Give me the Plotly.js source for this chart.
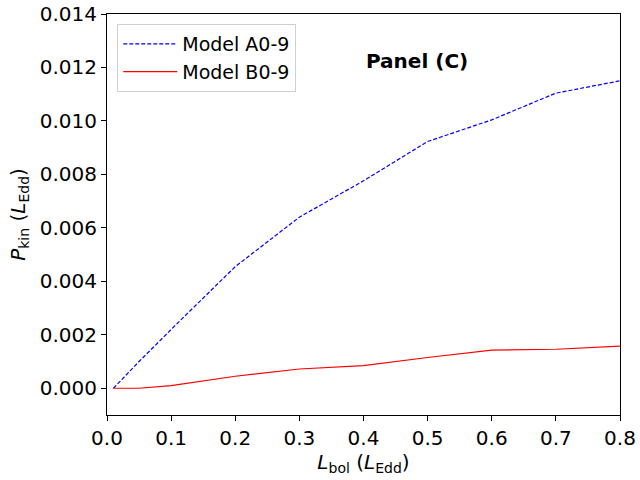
<!DOCTYPE html>
<html>
<head>
<meta charset="utf-8">
<script src="https://cdn.plot.ly/plotly-3.0.1.min.js"></script>
<style>
  html, body { margin: 0; padding: 0; background: #fff; }
  #chart { width: 640px; height: 480px; }
</style>
</head>
<body>
<div id="chart"></div>
<script>
'use strict';

/* ---------- data ---------- */
var lbol   = [0.01, 0.05, 0.1, 0.2, 0.3, 0.4, 0.5, 0.6, 0.7, 0.8];
var modelA = [0.0, 0.00100, 0.00220, 0.00455, 0.00640, 0.00776, 0.00923, 0.01004, 0.01104, 0.01150];
var modelB = [0.0, 0.0, 0.00010, 0.00045, 0.00072, 0.00085, 0.00115, 0.00143, 0.00146, 0.00158];
var xTicks = [0, 0.1, 0.2, 0.3, 0.4, 0.5, 0.6, 0.7, 0.8];
var yTicks = [0, 0.002, 0.004, 0.006, 0.008, 0.010, 0.012, 0.014];

var FONT = 'DejaVu Sans, sans-serif';

var axisCommon = {
  showline: true, mirror: true, linecolor: '#000', linewidth: 1,
  ticks: 'outside', ticklen: 5, tickwidth: 1, tickcolor: '#000',
  showgrid: false, zeroline: false,
  tickfont: { family: FONT, size: 20, color: '#000' }
};

Plotly.newPlot('chart', [
  { x: lbol, y: modelA, name: 'Model A0-9', legendgroup: 'a',
    type: 'scatter', mode: 'lines',
    line: { color: '#0000ff', width: 1.2, dash: '4px,2px' } },
  { x: lbol, y: modelB, name: 'Model B0-9', legendgroup: 'b',
    type: 'scatter', mode: 'lines',
    line: { color: '#ff0000', width: 1.2 } }
], {
  width: 640, height: 480,
  font: { family: FONT, color: '#000' },
  paper_bgcolor: '#fff', plot_bgcolor: '#fff',
  margin: { t: 14, r: 20, b: 65, l: 107 },
  xaxis: Object.assign({}, axisCommon, {
    range: [0, 0.8], tickvals: xTicks, tickformat: '.1f',
    title: { text: '<i>L</i><sub>bol</sub> (<i>L</i><sub>Edd</sub>)',
             font: { family: FONT, size: 20 }, standoff: 2 }
  }),
  yaxis: Object.assign({}, axisCommon, {
    range: [-0.001, 0.014], tickvals: yTicks, tickformat: '.3f',
    title: { text: '<i>P</i><sub>kin</sub> (<i>L</i><sub>Edd</sub>)',
             font: { family: FONT, size: 20 }, standoff: 8 }
  }),
  showlegend: true,
  legend: {
    x: 0.02, y: 0.975, xanchor: 'left', yanchor: 'top',
    bgcolor: '#fff', bordercolor: '#d0d0d0', borderwidth: 1,
    font: { family: FONT, size: 19, color: '#000' },
    tracegroupgap: 0, itemwidth: 54
  },
  annotations: [{
    x: 0.4, y: 0.01224, xref: 'x', yref: 'y',
    xanchor: 'left', yanchor: 'middle', showarrow: false,
    text: '<b>Panel (C)</b>',
    font: { family: FONT, size: 20, color: '#000' }
  }]
}, { displayModeBar: false, staticPlot: true });
</script>
</body>
</html>
